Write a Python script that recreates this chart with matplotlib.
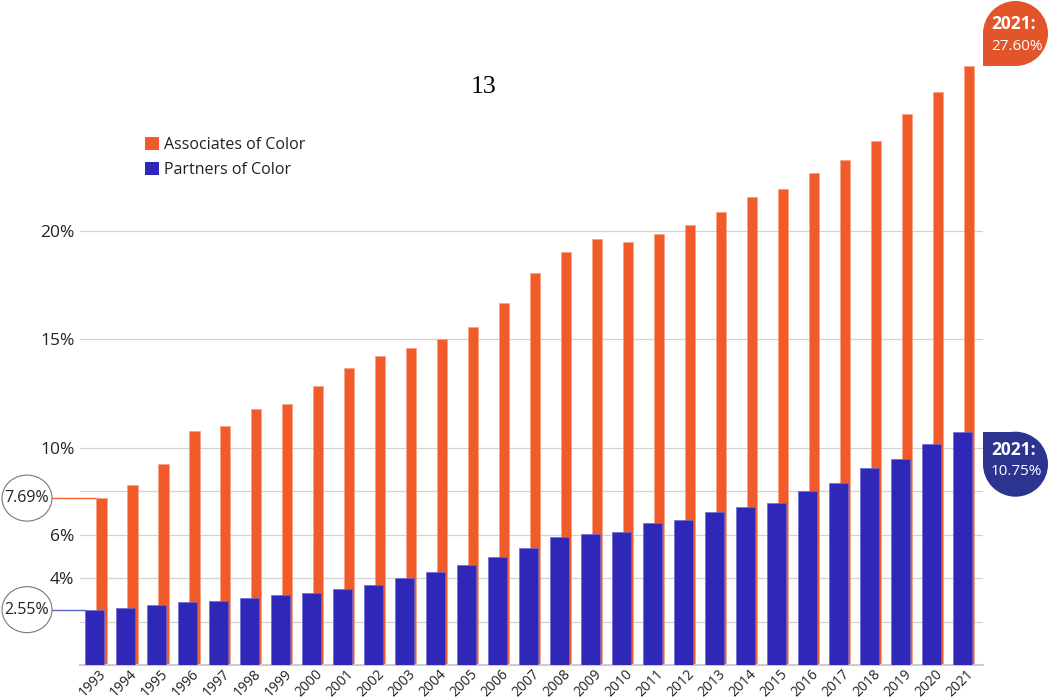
import matplotlib

matplotlib.use("Agg")
import matplotlib.pyplot as plt
import numpy as np
from matplotlib.patches import Circle, Ellipse, Patch, Rectangle
from matplotlib.transforms import IdentityTransform, ScaledTranslation

plt.rcParams["font.family"] = ["Open Sans", "DejaVu Sans"]

years = [
    "1993", "1994", "1995", "1996", "1997", "1998", "1999", "2000", "2001", "2002",
    "2003", "2004", "2005", "2006", "2007", "2008", "2009", "2010", "2011", "2012",
    "2013", "2014", "2015", "2016", "2017", "2018", "2019", "2020", "2021",
]
associates = [
    7.69, 8.29, 9.26, 10.78, 11.01, 11.80, 12.03, 12.86, 13.69, 14.24,
    14.60, 15.02, 15.58, 16.68, 18.06, 19.03, 19.63, 19.49, 19.86, 20.28,
    20.88, 21.57, 21.94, 22.67, 23.27, 24.15, 25.39, 26.41, 27.60,
]
partners = [
    2.55, 2.64, 2.75, 2.89, 2.95, 3.09, 3.23, 3.32, 3.50, 3.69,
    4.00, 4.29, 4.61, 4.98, 5.39, 5.90, 6.04, 6.13, 6.54, 6.68,
    7.05, 7.28, 7.47, 8.02, 8.40, 9.09, 9.49, 10.18, 10.75,
]
grid_values = [2, 4, 6, 8, 10, 15, 20]
grid_labels = ["", "4%", "6%", "", "10%", "15%", "20%"]
series_names = ["Associates of Color", "Partners of Color"]

ORANGE = "#f15a29"
BLUE = "#2e27b8"
ORANGE_TAG = "#e2552a"
BLUE_TAG = "#2c3490"
TEXT = "#222222"

fig = plt.figure(figsize=(10.48, 7.0), dpi=100)
ax = fig.add_axes([80 / 1048, 35 / 700, 903 / 1048, 645 / 700])

x = np.arange(len(years))
ax.bar(x + 0.21, associates, width=0.35, color=ORANGE, edgecolor="#f7a080", linewidth=0.5, zorder=2)
ax.bar(x, partners, width=0.61, color=BLUE, edgecolor="#6e68d0", linewidth=0.5, zorder=3)

ax.set_xlim(-0.47, len(years) - 1 + 0.66)
ax.set_ylim(0, 29.72)

ax.set_yticks(grid_values)
ax.set_yticklabels(grid_labels, fontsize=12.5, color=TEXT)
ax.grid(axis="y", color="#d2d2d2", linewidth=0.9, zorder=0)
ax.set_axisbelow(True)
ax.tick_params(axis="y", length=0, pad=4)

ax.set_xticks(x)
xlabels = ax.set_xticklabels(years, rotation=45, ha="right", va="center",
                             rotation_mode="anchor", fontsize=10, color=TEXT)
ax.tick_params(axis="x", length=0, pad=5)
shift = ScaledTranslation(9 / 100, 0, fig.dpi_scale_trans)
for label in xlabels:
    label.set_transform(label.get_transform() + shift)

for side in ("top", "right", "left"):
    ax.spines[side].set_visible(False)
ax.spines["bottom"].set_color("#cccccc")
ax.spines["bottom"].set_linewidth(1.5)

handles = [Patch(facecolor=ORANGE), Patch(facecolor=BLUE)]
ax.legend(
    handles, series_names, loc="upper left", bbox_to_anchor=(0.072, 0.818),
    frameon=False, fontsize=11.5, handlelength=0.85, handleheight=0.85,
    handletextpad=0.35, labelspacing=0.55, borderpad=0, borderaxespad=0,
    labelcolor=TEXT,
)

fig.text(484 / 1048, 1 - 87 / 700, "13", family="Liberation Serif", fontsize=18.5,
         ha="center", va="center", color="black")

# start-value circles on the left, joined to the first bars
to_px = ax.transData.transform
to_data = ax.transData.inverted().transform
circle_cx = to_px((-0.47, 0))[0] - 53
for value, color, bar_left in (
    (associates[0], ORANGE, x[0] + 0.21 - 0.175),
    (partners[0], "#5a60c8", x[0] - 0.305),
):
    cy = to_px((0, value))[1]
    fig.add_artist(Ellipse((circle_cx, cy), 50, 46, transform=IdentityTransform(),
                           facecolor="white", edgecolor="#777777", linewidth=0.8))
    fig.text(circle_cx, cy, f"{value:.2f}%", transform=IdentityTransform(),
             ha="center", va="center", fontsize=11.5, color=TEXT)
    x_edge = to_data((circle_cx + 25, cy))[0]
    ax.plot([x_edge, bar_left], [value, value], color=color, linewidth=1,
            clip_on=False, zorder=1)

# end-value tags on the right
r = 32.5
x_right = ax.get_xlim()[1]
ox, oy = to_px((x_right, associates[-1]))
fig.add_artist(Circle((ox + r, oy + r), r, transform=IdentityTransform(), color=ORANGE_TAG, linewidth=0))
fig.add_artist(Rectangle((ox, oy), r, r, transform=IdentityTransform(), color=ORANGE_TAG, linewidth=0))
fig.text(ox + 8, oy + 42, "2021:", transform=IdentityTransform(), fontsize=12.5,
         fontweight="bold", color="white", va="center")
fig.text(ox + 8, oy + 20, f"{associates[-1]:.2f}%", transform=IdentityTransform(),
         fontsize=11, color="white", va="center")

bx, by = to_px((x_right, partners[-1]))
fig.add_artist(Circle((bx + r, by - r), r, transform=IdentityTransform(), color=BLUE_TAG, linewidth=0))
fig.add_artist(Rectangle((bx, by - r), r, r, transform=IdentityTransform(), color=BLUE_TAG, linewidth=0))
fig.text(bx + 8, by - 18, "2021:", transform=IdentityTransform(), fontsize=12.5,
         fontweight="bold", color="white", va="center")
fig.text(bx + 8, by - 40, f"{partners[-1]:.2f}%", transform=IdentityTransform(),
         fontsize=11, color="white", va="center")

fig.savefig("out.png", dpi=100)
